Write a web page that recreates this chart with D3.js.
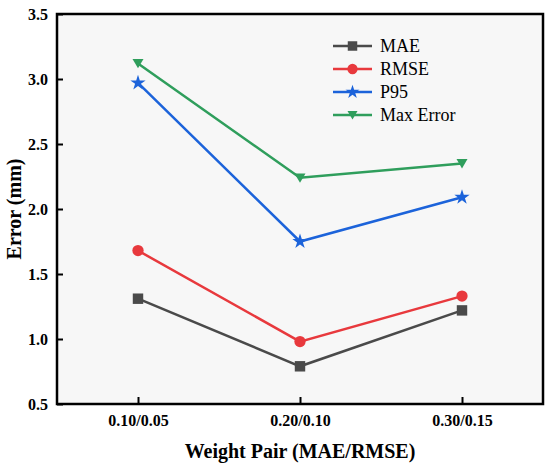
<!DOCTYPE html>
<html>
<head>
<meta charset="utf-8">
<script src="https://cdn.jsdelivr.net/npm/d3@7.9.0/dist/d3.min.js"></script>
<style>
  body { margin: 0; background: #fff; }
</style>
</head>
<body>
<svg id="chart" width="550" height="469"></svg>
<script>
const categories = ['0.10/0.05', '0.20/0.10', '0.30/0.15'];
const seriesNames = ['MAE', 'RMSE', 'P95', 'Max Error'];
const maeValues = [1.31, 0.79, 1.22];
const rmseValues = [1.68, 0.98, 1.33];
const p95Values = [2.97, 1.75, 2.09];
const maxValues = [3.12, 2.24, 2.35];
const yTicks = [0.5, 1.0, 1.5, 2.0, 2.5, 3.0, 3.5];

const FONT = '"Liberation Serif", "Times New Roman", Times, "DejaVu Serif", serif';
const colors = ['#4a4a4a', '#e8393d', '#1c63da', '#2f9e5c'];
const shapes = [d3.symbolSquare, d3.symbolCircle, d3.symbolStar, 'tri'];
const allValues = [maeValues, rmseValues, p95Values, maxValues];

const margin = {top: 14, right: 7, bottom: 65, left: 57};
const width = 550 - margin.left - margin.right;
const height = 469 - margin.top - margin.bottom;

const svg = d3.select('#chart');
const g = svg.append('g').attr('transform', `translate(${margin.left},${margin.top})`);

const x = d3.scalePoint().domain(categories).range([0, width]).padding(0.5);
const y = d3.scaleLinear().domain([0.5, 3.5]).range([height, 0]);

g.append('rect').attr('width', width).attr('height', height).attr('fill', '#f7f7f7');

// axes, ticks pointing inward
const yAxis = g.append('g')
    .call(d3.axisLeft(y).tickValues(yTicks).tickFormat(d3.format('.1f')).tickSizeInner(-6).tickSizeOuter(0).tickPadding(9));
const xAxis = g.append('g').attr('transform', `translate(0,${height})`)
    .call(d3.axisBottom(x).tickSizeInner(-7).tickSizeOuter(0).tickPadding(11));
[yAxis, xAxis].forEach(a => {
    a.attr('font-family', null);
    a.select('.domain').remove();
    a.selectAll('line').attr('stroke', '#000').attr('stroke-width', 2);
    a.selectAll('text').attr('fill', '#000')
        .style('font-family', FONT).style('font-size', '16px').style('font-weight', 'bold');
});

function marker(sel, i, size) {
    if (shapes[i] === 'tri') {
        const r = size;
        sel.append('path').attr('d', `M${-r},${-r * 0.8}L${r},${-r * 0.8}L0,${r * 0.9}Z`).attr('fill', colors[i]);
    } else {
        const area = shapes[i] === d3.symbolStar ? size * size * 2.4 : size * size * (shapes[i] === d3.symbolCircle ? 3.3 : 3.6);
        sel.append('path').attr('d', d3.symbol().type(shapes[i]).size(area)()).attr('fill', colors[i]);
    }
}

const line = d3.line().x((d, i) => x(categories[i])).y(d => y(d));
allValues.forEach((vals, s) => {
    g.append('path').datum(vals).attr('d', line)
        .attr('fill', 'none').attr('stroke', colors[s]).attr('stroke-width', 2.5);
    vals.forEach((v, i) => {
        const m = g.append('g').attr('transform', `translate(${x(categories[i])},${y(v)})`);
        marker(m, s, 5.5);
    });
});

// frame
g.append('rect').attr('width', width).attr('height', height)
    .attr('fill', 'none').attr('stroke', '#000').attr('stroke-width', 2.5);

// legend
const legend = g.append('g').attr('transform', `translate(${333 - margin.left},${46 - margin.top})`);
seriesNames.forEach((name, i) => {
    const row = legend.append('g').attr('transform', `translate(0,${i * 23})`);
    row.append('line').attr('x1', 0).attr('x2', 39).attr('stroke', colors[i]).attr('stroke-width', 2.5);
    marker(row.append('g').attr('transform', 'translate(19.5,0)'), i, 5);
    row.append('text').attr('x', 47).attr('dy', '0.35em')
        .style('font-family', FONT).style('font-size', '18px').text(name);
});

// axis titles
svg.append('text').attr('x', margin.left + width / 2).attr('y', 458)
    .attr('text-anchor', 'middle').style('font-family', FONT).style('font-size', '20px').style('font-weight', 'bold')
    .text('Weight Pair (MAE/RMSE)');
svg.append('text').attr('transform', `translate(21,${margin.top + height / 2}) rotate(-90)`)
    .attr('text-anchor', 'middle').style('font-family', FONT).style('font-size', '20px').style('font-weight', 'bold')
    .text('Error (mm)');
</script>
</body>
</html>
